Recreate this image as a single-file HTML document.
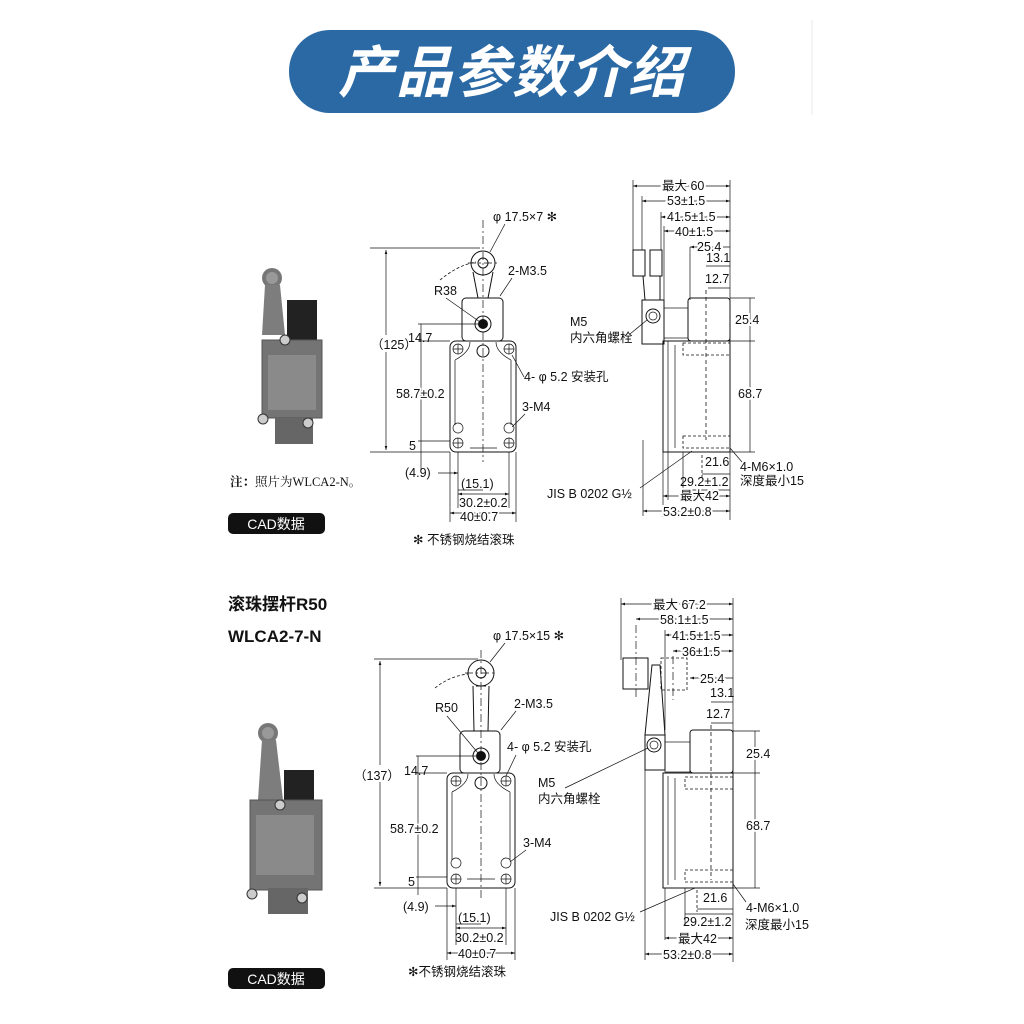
<!DOCTYPE html>
<html><head><meta charset="utf-8"><style>
html,body{margin:0;padding:0;background:#fff;width:1024px;height:1024px;overflow:hidden}
svg{display:block}
text{font-family:"Liberation Sans","Noto Sans CJK SC",sans-serif;font-size:12.5px;fill:#111}
.l{stroke:#111;stroke-width:1;fill:none}
.t{stroke:#111;stroke-width:.7;fill:none}
.d{stroke:#111;stroke-width:.7;fill:none;stroke-dasharray:8 3 2 3}
.h{stroke:#111;stroke-width:.8;fill:none;stroke-dasharray:3 2}
</style></head><body>
<svg width="1024" height="1024" viewBox="0 0 1024 1024">
<defs><marker id="a" viewBox="0 0 6 6" refX="6" refY="3" markerWidth="6" markerHeight="6" orient="auto-start-reverse"><path d="M0,1 L6,3 L0,5z" fill="#111"/></marker></defs>
<rect x="289" y="30" width="446" height="83" rx="41" fill="#2a69a4"/>
<text x="512" y="92" text-anchor="middle" style="font-size:56px;font-weight:bold;font-style:italic;fill:#fff;letter-spacing:2px">产品参数介绍</text>
<line x1="812" y1="20" x2="812" y2="115" stroke="#e8e8e8"/>

<g>
<circle cx="272" cy="278" r="10" fill="#777"/><circle cx="272" cy="278" r="6" fill="#999"/>
<path d="M265,285 L280,285 L285,335 L262,335z" fill="#7d7d7d"/>
<rect x="287" y="300" width="30" height="42" fill="#222"/>
<rect x="262" y="340" width="60" height="78" fill="#747474" stroke="#555"/>
<rect x="268" y="355" width="48" height="55" fill="#8a8a8a"/>
<rect x="275" y="418" width="38" height="26" fill="#666"/>
<circle cx="285" cy="340" r="5" fill="#ccc" stroke="#333"/>
<circle cx="263" cy="419" r="5" fill="#ccc" stroke="#333"/><circle cx="308" cy="423" r="5" fill="#ccc" stroke="#333"/>
</g>
<text x="230" y="486" style="font-size:12.5px;font-family:'Liberation Serif','Noto Serif CJK SC',serif"><tspan font-weight="bold">注：</tspan>照片为WLCA2-N。</text>
<rect x="228" y="513" width="97" height="21" rx="5" fill="#111"/>
<text x="276" y="529" text-anchor="middle" style="fill:#fff;font-size:14px">CAD数据</text>

<g>
<rect x="450" y="341" width="66" height="111" rx="6" class="l"/>
<path d="M455,360 Q470,352 470,342 M511,360 Q496,352 496,342 M455,360 L455,425 M511,360 L511,425" class="t"/>
<rect x="462" y="298" width="41" height="43" rx="4" class="l"/>
<path d="M473,272 L478,298 M493,272 L488,298" class="l"/>
<circle cx="483" cy="263" r="12" class="l"/><circle cx="483" cy="263" r="5" class="l"/>
<circle cx="483" cy="324" r="8" class="l"/><circle cx="483" cy="324" r="5" fill="#111"/>
<circle cx="483" cy="351" r="6" class="l"/>
<line x1="483" y1="220" x2="483" y2="462" class="d"/>
<line x1="468" y1="263" x2="498" y2="263" class="d"/>
<path d="M440,280 Q458,265 476,262" class="h"/>
<g class="t"><circle cx="458" cy="349" r="5"/><circle cx="509" cy="349" r="5"/><circle cx="458" cy="443" r="5"/><circle cx="509" cy="443" r="5"/><circle cx="458" cy="428" r="5"/><circle cx="509" cy="428" r="5"/>
<path d="M453,349h10M458,344v10M504,349h10M509,344v10M453,443h10M458,438v10M504,443h10M509,438v10"/></g>
<line x1="470" y1="448" x2="497" y2="448" class="t"/>
<line x1="370" y1="248" x2="480" y2="248" class="t"/><line x1="370" y1="452" x2="450" y2="452" class="t"/>
<line x1="386" y1="250" x2="386" y2="335" class="t" marker-start="url(#a)"/><line x1="386" y1="352" x2="386" y2="450" class="t" marker-end="url(#a)"/>
<text x="371" y="349">（125）</text>
<line x1="418" y1="324" x2="478" y2="324" class="t"/><line x1="418" y1="341" x2="450" y2="341" class="t"/>
<line x1="421" y1="324" x2="421" y2="470" class="t"/>
<text x="408" y="342">14.7</text>
<line x1="418" y1="441" x2="450" y2="441" class="t"/>
<text x="396" y="398" style="paint-order:stroke;stroke:#fff;stroke-width:3px">58.7±0.2</text>
<text x="409" y="450">5</text>
<line x1="450" y1="452" x2="450" y2="522" class="t"/><line x1="516" y1="452" x2="516" y2="522" class="t"/>
<line x1="458" y1="452" x2="458" y2="508" class="t"/><line x1="509" y1="452" x2="509" y2="508" class="t"/>
<line x1="438" y1="473" x2="458" y2="473" class="t" marker-end="url(#a)"/><text x="405" y="477">(4.9)</text>
<line x1="458" y1="490" x2="483" y2="490" class="t"/><text x="461" y="488">(15.1)</text>
<line x1="458" y1="494" x2="509" y2="494" class="t" marker-start="url(#a)" marker-end="url(#a)"/><text x="459" y="507">30.2±0.2</text>
<line x1="450" y1="513" x2="516" y2="513" class="t" marker-start="url(#a)" marker-end="url(#a)"/><text x="460" y="521" style="paint-order:stroke;stroke:#fff;stroke-width:3px">40±0.7</text>
<text x="413" y="544">✻ 不锈钢烧结滚珠</text>
<text x="493" y="221">φ 17.5×7 ✻</text><line x1="505" y1="224" x2="490" y2="252" class="t"/>
<text x="508" y="275">2-M3.5</text><line x1="512" y1="278" x2="500" y2="296" class="t"/>
<text x="434" y="295">R38</text><line x1="446" y1="298" x2="480" y2="322" class="t"/>
<text x="524" y="381">4- φ 5.2 安装孔</text><line x1="524" y1="377" x2="512" y2="355" class="t"/>
<text x="522" y="411">3-M4</text><line x1="525" y1="414" x2="512" y2="427" class="t"/>
</g>

<g>
<line x1="730" y1="180" x2="730" y2="520" class="t"/>
<line x1="633" y1="180" x2="633" y2="250" class="t"/><line x1="642" y1="196" x2="642" y2="250" class="t"/>
<line x1="661" y1="212" x2="661" y2="250" class="t"/><line x1="664" y1="226" x2="664" y2="300" class="t"/>
<line x1="633" y1="186" x2="730" y2="186" class="t" marker-start="url(#a)" marker-end="url(#a)"/><text x="662" y="190" style="paint-order:stroke;stroke:#fff;stroke-width:4px">最大 60</text>
<line x1="642" y1="201" x2="730" y2="201" class="t" marker-start="url(#a)" marker-end="url(#a)"/><text x="667" y="205" style="paint-order:stroke;stroke:#fff;stroke-width:4px">53±1.5</text>
<line x1="661" y1="217" x2="730" y2="217" class="t" marker-start="url(#a)" marker-end="url(#a)"/><text x="667" y="221" style="paint-order:stroke;stroke:#fff;stroke-width:4px">41.5±1.5</text>
<line x1="664" y1="231" x2="730" y2="231" class="t" marker-start="url(#a)" marker-end="url(#a)"/><text x="675" y="236" style="paint-order:stroke;stroke:#fff;stroke-width:4px">40±1.5</text>
<line x1="690" y1="247" x2="730" y2="247" class="t" marker-start="url(#a)"/><text x="697" y="251" style="paint-order:stroke;stroke:#fff;stroke-width:4px">25.4</text>
<text x="706" y="262">13.1</text><line x1="706" y1="266" x2="730" y2="266" class="t"/>
<text x="705" y="283">12.7</text><line x1="708" y1="288" x2="730" y2="288" class="t"/>
<line x1="706" y1="290" x2="706" y2="440" class="h" style="stroke-dasharray:4 3"/>
<line x1="690" y1="247" x2="690" y2="300" class="t"/>
<rect x="633" y="250" width="12" height="26" class="l"/><rect x="650" y="250" width="12" height="26" class="l"/>
<path d="M643,276 L645,300 M660,276 L660,300" class="l"/>
<rect x="642" y="300" width="22" height="44" class="l"/>
<circle cx="653" cy="316" r="7" class="l"/><circle cx="653" cy="316" r="4" class="t"/>
<rect x="664" y="308" width="24" height="30" class="t"/>
<rect x="688" y="298" width="42" height="43" rx="3" class="l"/>
<rect x="663" y="341" width="67" height="111" class="l"/>
<line x1="668" y1="341" x2="668" y2="452" class="t"/><line x1="675" y1="345" x2="675" y2="448" class="t"/>
<rect x="683" y="343" width="47" height="12" class="h"/><rect x="683" y="436" width="47" height="12" class="h"/>
<line x1="730" y1="298" x2="755" y2="298" class="t"/><line x1="730" y1="341" x2="755" y2="341" class="t"/><line x1="730" y1="452" x2="755" y2="452" class="t"/>
<line x1="750" y1="298" x2="750" y2="452" class="t"/>
<text x="735" y="324" style="paint-order:stroke;stroke:#fff;stroke-width:4px">25.4</text>
<text x="738" y="398" style="paint-order:stroke;stroke:#fff;stroke-width:4px">68.7</text>
<text x="570" y="326">M5</text><text x="570" y="342">内六角螺栓</text><line x1="630" y1="334" x2="647" y2="320" class="t"/>
<line x1="683" y1="452" x2="683" y2="492" class="t"/><line x1="668" y1="452" x2="668" y2="500" class="t"/><line x1="663" y1="452" x2="663" y2="517" class="t"/>
<line x1="702" y1="455" x2="702" y2="478" class="h"/>
<text x="705" y="466">21.6</text><line x1="702" y1="474" x2="730" y2="474" class="t"/>
<text x="680" y="486">29.2±1.2</text><line x1="683" y1="490" x2="730" y2="490" class="t"/>
<line x1="663" y1="496" x2="730" y2="496" class="t" marker-start="url(#a)" marker-end="url(#a)"/><text x="680" y="500" style="paint-order:stroke;stroke:#fff;stroke-width:4px">最大42</text>
<line x1="643" y1="511" x2="730" y2="511" class="t" marker-start="url(#a)" marker-end="url(#a)"/><text x="663" y="516" style="paint-order:stroke;stroke:#fff;stroke-width:4px">53.2±0.8</text>
<line x1="643" y1="440" x2="643" y2="516" class="t"/>
<text x="547" y="498">JIS B 0202 G½</text><line x1="640" y1="488" x2="692" y2="451" class="t"/>
<text x="740" y="471">4-M6×1.0</text><text x="740" y="485">深度最小15</text><line x1="742" y1="462" x2="730" y2="448" class="t"/>
</g>

<text x="228" y="610" style="font-size:17px;font-weight:bold">滚珠摆杆R50</text>
<text x="228" y="642" style="font-size:17px;font-weight:bold">WLCA2-7-N</text>
<g>
<circle cx="268" cy="733" r="10" fill="#777"/><circle cx="268" cy="733" r="6" fill="#999"/>
<path d="M262,740 L276,740 L283,800 L258,800z" fill="#7d7d7d"/>
<rect x="284" y="770" width="30" height="42" fill="#222"/>
<rect x="250" y="800" width="72" height="90" fill="#747474" stroke="#555"/>
<rect x="256" y="815" width="58" height="60" fill="#8a8a8a"/>
<rect x="268" y="888" width="40" height="26" fill="#666"/>
<circle cx="280" cy="805" r="5" fill="#ccc" stroke="#333"/>
<circle cx="252" cy="894" r="5" fill="#ccc" stroke="#333"/><circle cx="302" cy="898" r="5" fill="#ccc" stroke="#333"/>
</g>
<rect x="228" y="968" width="97" height="21" rx="5" fill="#111"/>
<text x="276" y="984" text-anchor="middle" style="fill:#fff;font-size:14px">CAD数据</text>

<g>
<rect x="447" y="773" width="68" height="115" rx="6" class="l"/>
<path d="M452,792 Q468,784 468,774 M510,792 Q494,784 494,774 M452,792 L452,860 M510,792 L510,860" class="t"/>
<rect x="460" y="731" width="40" height="42" rx="4" class="l"/>
<path d="M473,686 L474,731 M489,686 L488,731 M476,686 L486,686" class="l"/>
<circle cx="481" cy="673" r="13" class="l"/><circle cx="481" cy="673" r="5" class="l"/>
<circle cx="481" cy="756" r="8" class="l"/><circle cx="481" cy="756" r="5" fill="#111"/>
<circle cx="481" cy="783" r="6" class="l"/>
<line x1="481" y1="650" x2="481" y2="900" class="d"/>
<line x1="465" y1="673" x2="497" y2="673" class="d"/>
<path d="M435,688 Q450,676 468,674" class="h"/>
<g class="t"><circle cx="456" cy="781" r="5"/><circle cx="506" cy="781" r="5"/><circle cx="456" cy="879" r="5"/><circle cx="506" cy="879" r="5"/><circle cx="456" cy="863" r="5"/><circle cx="506" cy="863" r="5"/>
<path d="M451,781h10M456,776v10M501,781h10M506,776v10M451,879h10M456,874v10M501,879h10M506,874v10"/></g>
<line x1="467" y1="879" x2="495" y2="879" class="t"/>
<line x1="374" y1="659" x2="478" y2="659" class="t"/><line x1="374" y1="888" x2="447" y2="888" class="t"/>
<line x1="380" y1="661" x2="380" y2="765" class="t" marker-start="url(#a)"/><line x1="380" y1="782" x2="380" y2="886" class="t" marker-end="url(#a)"/>
<text x="354" y="780">（137）</text>
<line x1="416" y1="756" x2="476" y2="756" class="t"/><line x1="416" y1="773" x2="447" y2="773" class="t"/>
<line x1="418" y1="756" x2="418" y2="895" class="t"/>
<text x="404" y="775">14.7</text>
<line x1="416" y1="877" x2="447" y2="877" class="t"/>
<text x="390" y="833" style="paint-order:stroke;stroke:#fff;stroke-width:3px">58.7±0.2</text>
<text x="408" y="886">5</text>
<line x1="447" y1="888" x2="447" y2="960" class="t"/><line x1="515" y1="888" x2="515" y2="960" class="t"/>
<line x1="456" y1="888" x2="456" y2="945" class="t"/><line x1="506" y1="888" x2="506" y2="945" class="t"/>
<line x1="435" y1="906" x2="456" y2="906" class="t" marker-end="url(#a)"/><text x="403" y="911">(4.9)</text>
<line x1="456" y1="924" x2="481" y2="924" class="t"/><text x="458" y="922">(15.1)</text>
<line x1="456" y1="928" x2="506" y2="928" class="t" marker-start="url(#a)" marker-end="url(#a)"/><text x="455" y="942">30.2±0.2</text>
<line x1="447" y1="953" x2="515" y2="953" class="t" marker-start="url(#a)" marker-end="url(#a)"/><text x="458" y="958" style="paint-order:stroke;stroke:#fff;stroke-width:3px">40±0.7</text>
<text x="408" y="976">✻不锈钢烧结滚珠</text>
<text x="493" y="640">φ 17.5×15 ✻</text><line x1="505" y1="643" x2="490" y2="662" class="t"/>
<text x="514" y="708">2-M3.5</text><line x1="516" y1="711" x2="501" y2="730" class="t"/>
<text x="435" y="712">R50</text><line x1="447" y1="716" x2="478" y2="753" class="t"/>
<text x="507" y="751">4- φ 5.2 安装孔</text><line x1="516" y1="755" x2="506" y2="776" class="t"/>
<text x="538" y="787">M5</text><text x="538" y="803">内六角螺栓</text><line x1="565" y1="788" x2="648" y2="748" class="t"/>
<text x="523" y="847">3-M4</text><line x1="526" y1="850" x2="510" y2="862" class="t"/>
<text x="550" y="921">JIS B 0202 G½</text><line x1="640" y1="912" x2="695" y2="888" class="t"/>
</g>

<g>
<line x1="733" y1="598" x2="733" y2="962" class="t"/>
<line x1="621" y1="598" x2="621" y2="660" class="t"/><line x1="636" y1="625" x2="636" y2="700" class="d"/>
<line x1="665" y1="630" x2="665" y2="730" class="t"/><line x1="673" y1="656" x2="673" y2="700" class="d"/>
<line x1="621" y1="604" x2="733" y2="604" class="t" marker-start="url(#a)" marker-end="url(#a)"/><text x="653" y="609" style="paint-order:stroke;stroke:#fff;stroke-width:4px">最大 67.2</text>
<line x1="636" y1="619" x2="733" y2="619" class="t" marker-start="url(#a)" marker-end="url(#a)"/><text x="660" y="624" style="paint-order:stroke;stroke:#fff;stroke-width:4px">58.1±1.5</text>
<line x1="665" y1="635" x2="733" y2="635" class="t" marker-start="url(#a)" marker-end="url(#a)"/><text x="672" y="640" style="paint-order:stroke;stroke:#fff;stroke-width:4px">41.5±1.5</text>
<line x1="673" y1="651" x2="733" y2="651" class="t" marker-start="url(#a)" marker-end="url(#a)"/><text x="682" y="656" style="paint-order:stroke;stroke:#fff;stroke-width:4px">36±1.5</text>
<line x1="690" y1="678" x2="733" y2="678" class="t" marker-start="url(#a)"/><text x="700" y="683" style="paint-order:stroke;stroke:#fff;stroke-width:4px">25.4</text>
<text x="710" y="697">13.1</text><line x1="711" y1="702" x2="733" y2="702" class="t"/>
<text x="706" y="718">12.7</text><line x1="711" y1="723" x2="733" y2="723" class="t"/>
<line x1="711" y1="725" x2="711" y2="880" class="h" style="stroke-dasharray:4 3"/>
<rect x="623" y="658" width="25" height="31" class="l"/>
<rect x="661" y="658" width="26" height="32" class="h"/>
<path d="M652,665 L660,665 L665,735 L645,735z" class="l"/>
<rect x="645" y="735" width="20" height="35" class="l"/>
<circle cx="654" cy="745" r="7" class="l"/><circle cx="654" cy="745" r="4" class="t"/>
<rect x="665" y="742" width="25" height="30" class="t"/>
<rect x="690" y="730" width="43" height="43" rx="3" class="l"/>
<rect x="663" y="773" width="70" height="115" class="l"/>
<line x1="668" y1="776" x2="668" y2="885" class="t"/><line x1="675" y1="778" x2="675" y2="880" class="t"/>
<rect x="685" y="777" width="48" height="12" class="h"/><rect x="685" y="870" width="48" height="12" class="h"/>
<line x1="733" y1="731" x2="760" y2="731" class="t"/><line x1="733" y1="773" x2="760" y2="773" class="t"/><line x1="733" y1="888" x2="760" y2="888" class="t"/>
<line x1="755" y1="731" x2="755" y2="888" class="t"/>
<text x="746" y="758" style="paint-order:stroke;stroke:#fff;stroke-width:4px">25.4</text>
<text x="746" y="830" style="paint-order:stroke;stroke:#fff;stroke-width:4px">68.7</text>
<line x1="685" y1="888" x2="685" y2="925" class="t"/><line x1="665" y1="888" x2="665" y2="940" class="t"/><line x1="645" y1="770" x2="645" y2="960" class="t"/>
<line x1="697" y1="890" x2="697" y2="912" class="h"/>
<text x="703" y="902">21.6</text><line x1="697" y1="909" x2="733" y2="909" class="t"/>
<text x="683" y="926">29.2±1.2</text><line x1="685" y1="914" x2="733" y2="914" class="t"/>
<line x1="665" y1="938" x2="733" y2="938" class="t" marker-start="url(#a)" marker-end="url(#a)"/><text x="678" y="943" style="paint-order:stroke;stroke:#fff;stroke-width:4px">最大42</text>
<line x1="645" y1="954" x2="733" y2="954" class="t" marker-start="url(#a)" marker-end="url(#a)"/><text x="663" y="959" style="paint-order:stroke;stroke:#fff;stroke-width:4px">53.2±0.8</text>
<text x="746" y="912">4-M6×1.0</text><text x="745" y="929">深度最小15</text><line x1="746" y1="902" x2="733" y2="884" class="t"/>
</g>
</svg>
</body></html>
